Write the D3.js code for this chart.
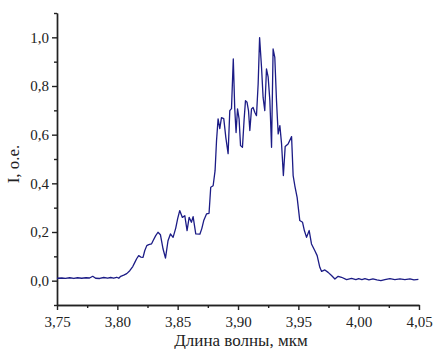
<!DOCTYPE html>
<html>
<head>
<meta charset="utf-8">
<script src="https://cdn.jsdelivr.net/npm/d3@7"></script>
<style>
body { margin: 0; background: #fff; }
text { font-family: "Liberation Serif", "Times New Roman", serif; fill: #222; }
</style>
</head>
<body>
<svg width="434" height="349"></svg>
<script>
// spectrum
var wavelength = [3.750, 3.754, 3.757, 3.7605, 3.764, 3.767, 3.7705, 3.774, 3.777, 3.7796,
    3.782, 3.7854, 3.7887, 3.792, 3.7945, 3.797, 3.7995, 3.8012, 3.8028, 3.8053,
    3.8078, 3.8103, 3.8128, 3.8144, 3.816, 3.8177, 3.8194, 3.8213, 3.8227, 3.8244,
    3.826, 3.8283, 3.8296, 3.8318, 3.8337, 3.8357, 3.8379, 3.8399, 3.842, 3.844,
    3.8462, 3.8484, 3.850, 3.8517, 3.8539, 3.8559, 3.8578, 3.8595, 3.8614, 3.8628,
    3.865, 3.8684, 3.870, 3.8716, 3.8739, 3.876, 3.8774, 3.8794, 3.881, 3.8822,
    3.8835, 3.8849, 3.8863, 3.8882, 3.8899, 3.8918, 3.8932, 3.8946, 3.8961, 3.8973,
    3.8984, 3.8996, 3.9009, 3.9021, 3.9037, 3.9051, 3.9062, 3.9075, 3.9087, 3.9098,
    3.9112, 3.9125, 3.9139, 3.9153, 3.9167, 3.9179, 3.9195, 3.9208, 3.9222, 3.9236,
    3.925, 3.9264, 3.9278, 3.9291, 3.9305, 3.9319, 3.9333, 3.9347, 3.9361, 3.9376,
    3.9391, 3.9415, 3.9444, 3.9457, 3.9471, 3.949, 3.9512, 3.9535, 3.955, 3.9568,
    3.959, 3.9609, 3.9637, 3.9656, 3.9678, 3.9693, 3.972, 3.9747, 3.9775, 3.9803,
    3.983, 3.9858, 3.990, 3.9941, 3.9977, 4.000, 4.0027, 4.0052, 4.0085, 4.0118,
    4.0151, 4.0184, 4.0217, 4.0259, 4.030, 4.0342, 4.0383, 4.0425, 4.0458, 4.0495];
var intensity = [0.010, 0.011, 0.009, 0.012, 0.009, 0.012, 0.010, 0.012, 0.011, 0.018,
    0.010, 0.009, 0.013, 0.010, 0.013, 0.010, 0.014, 0.010, 0.018, 0.023,
    0.029, 0.041, 0.058, 0.074, 0.090, 0.103, 0.097, 0.096, 0.123, 0.144,
    0.148, 0.151, 0.164, 0.185, 0.199, 0.189, 0.130, 0.093, 0.164, 0.192,
    0.178, 0.216, 0.255, 0.288, 0.260, 0.267, 0.206, 0.260, 0.240, 0.263,
    0.192, 0.191, 0.214, 0.247, 0.274, 0.277, 0.384, 0.390, 0.452, 0.575,
    0.665, 0.625, 0.670, 0.666, 0.589, 0.522, 0.699, 0.707, 0.911, 0.707,
    0.609, 0.706, 0.665, 0.555, 0.548, 0.665, 0.740, 0.733, 0.699, 0.617,
    0.706, 0.712, 0.692, 0.678, 0.808, 0.999, 0.877, 0.753, 0.699, 0.870,
    0.836, 0.740, 0.548, 0.952, 0.918, 0.740, 0.603, 0.637, 0.562, 0.432,
    0.551, 0.562, 0.592, 0.432, 0.390, 0.342, 0.247, 0.240, 0.206, 0.178,
    0.206, 0.151, 0.123, 0.103, 0.055, 0.038, 0.044, 0.034, 0.021, 0.007,
    0.018, 0.014, 0.004, 0.009, 0.004, 0.008, 0.004, 0.008, 0.003, 0.007,
    0.003, 0.000, 0.004, 0.008, 0.004, 0.007, 0.004, 0.007, 0.003, 0.005];

var xTicks = [3.75, 3.80, 3.85, 3.90, 3.95, 4.00, 4.05];
var xMinor = [3.775, 3.825, 3.875, 3.925, 3.975, 4.025];
var yTicks = [0.0, 0.2, 0.4, 0.6, 0.8, 1.0];
var yMinor = [-0.1, 0.1, 0.3, 0.5, 0.7, 0.9, 1.1];

var data = wavelength.map(function(d, i) { return {wl: d, v: intensity[i]}; });

var svg = d3.select("svg"),
    margin = {top: 13, right: 15, bottom: 44, left: 57},
    width = 434 - margin.left - margin.right,
    height = 349 - margin.top - margin.bottom;
var g = svg.append("g").attr("transform", "translate(" + margin.left + "," + margin.top + ")");

var x = d3.scaleLinear().domain([3.75, 4.05]).range([0, width]);
var y = d3.scaleLinear().domain([-0.1, 1.1]).range([height, 0]);

var fmt = function(d) { return d3.format(".2f")(d).replace(".", ","); };
var fmtY = function(d) { return d3.format(".1f")(d).replace(".", ","); };

// minor ticks first, then the main axes over them
g.append("g")
    .attr("transform", "translate(0," + height + ")")
    .call(d3.axisBottom(x).tickValues(xMinor).tickSize(3).tickFormat("").tickSizeOuter(0));
g.append("g")
    .call(d3.axisLeft(y).tickValues(yMinor).tickSize(3).tickFormat("").tickSizeOuter(0));

var xAxis = g.append("g")
    .attr("class", "x axis")
    .attr("transform", "translate(0," + height + ")")
    .call(d3.axisBottom(x).tickValues(xTicks).tickSize(5).tickSizeOuter(0).tickFormat(fmt));
var yAxis = g.append("g")
    .attr("class", "y axis")
    .call(d3.axisLeft(y).tickValues(yTicks).tickSize(5).tickSizeOuter(0).tickFormat(fmtY));

g.selectAll(".axis")
    .attr("font-family", "'Liberation Serif', serif")
    .attr("font-size", 15);
g.selectAll(".domain, .tick line")
    .attr("stroke", "#222")
    .attr("stroke-width", 1.4);
g.selectAll(".tick text")
    .style("font-family", "'Liberation Serif', serif")
    .style("font-size", "15px")
    .attr("fill", "#333");
xAxis.selectAll(".tick text").attr("dy", "0.95em");
yAxis.selectAll(".tick text").attr("x", -8);

g.append("path")
    .datum(data)
    .attr("fill", "none")
    .attr("stroke", "#1c1c86")
    .attr("stroke-width", 1.3)
    .attr("stroke-linejoin", "round")
    .attr("d", d3.line()
        .x(function(d) { return x(d.wl); })
        .y(function(d) { return y(d.v); }));

svg.append("text")
    .attr("x", margin.left + width / 2 + 3)
    .attr("y", 346)
    .attr("text-anchor", "middle")
    .style("font-size", "17px")
    .text("Длина волны, мкм");

svg.append("text")
    .attr("transform", "translate(19," + (margin.top + height / 2 + 5) + ") rotate(-90)")
    .attr("text-anchor", "middle")
    .style("font-size", "17px")
    .text("I, о.е.");
</script>
</body>
</html>
